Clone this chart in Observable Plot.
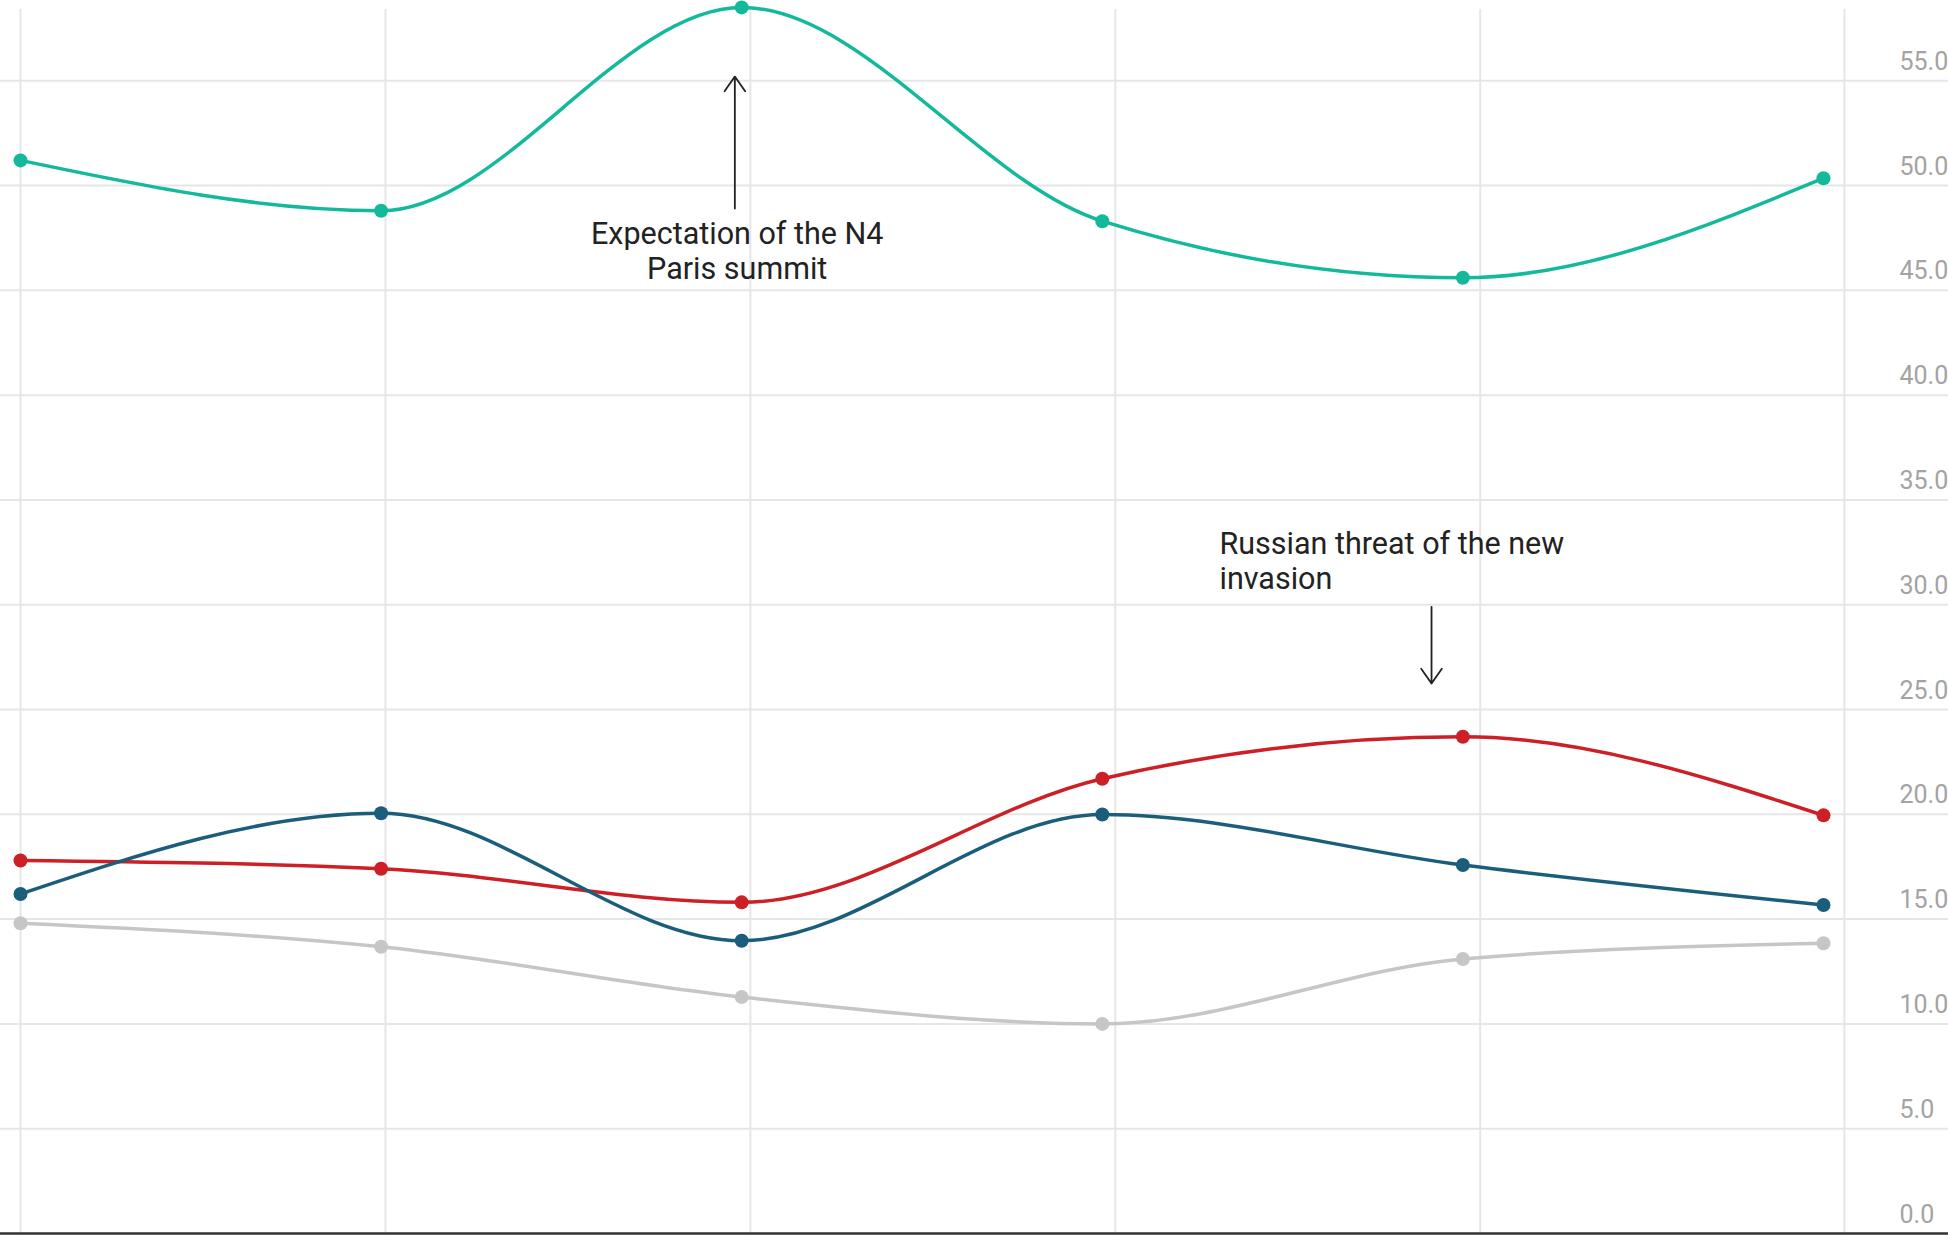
<!DOCTYPE html>
<html>
<head>
<meta charset="utf-8">
<script src="https://cdn.jsdelivr.net/npm/d3@7"></script>
<script src="https://cdn.jsdelivr.net/npm/@observablehq/plot@0.6"></script>
<style>
  html, body { margin: 0; padding: 0; background: #fff; overflow: hidden; }
  svg { display: block; }
</style>
</head>
<body>
<div id="chart"></div>
<script>
// ---- data ----
const periods = [0, 1, 2, 3, 4, 5];
const seriesNames = ["Series D", "Series C", "Series B", "Series A"];
const seriesDValues = [14.8, 13.68, 11.28, 10.0, 13.1, 13.85];
const seriesCValues = [17.8, 17.4, 15.8, 21.7, 23.7, 19.95];
const seriesBValues = [16.2, 20.05, 13.97, 19.99, 17.58, 15.67];
const seriesAValues = [51.2, 48.8, 58.5, 48.3, 45.6, 50.35];
const seriesColors = ["#c6c6c6", "#cc1f26", "#1b5e7c", "#14b99c"];
const yTicks = [0, 5, 10, 15, 20, 25, 30, 35, 40, 45, 50, 55];
const xGrid = [0, 1.012, 2.024, 3.036, 4.048, 5.058];
const noteSummit = [{x: 1.9875, y: 48.4, text: "Expectation of the N4\nParis summit"}];
const noteThreat = [{x: 3.325, y: 33.6, text: "Russian threat of the new\ninvasion"}];
const arrowUp = [{x: 1.981, y1: 48.9, y2: 55.2}];
const arrowDown = [{x: 3.913, y1: 29.9, y2: 26.24}];

const valuesBySeries = {"Series D": seriesDValues, "Series C": seriesCValues, "Series B": seriesBValues, "Series A": seriesAValues};
const rows = seriesNames.flatMap(s => periods.map((p, i) => ({series: s, period: p, value: valuesBySeries[s][i]})));

const W = 1948, H = 1237;
const mL = 20, mR = 125, mT = 9, mB = 4;

const chart = Plot.plot({
  width: W,
  height: H,
  marginLeft: mL,
  marginRight: mR,
  marginTop: mT,
  marginBottom: mB,
  style: {fontFamily: "Roboto, sans-serif", background: "#fff", overflow: "visible"},
  x: {domain: [0, 5], axis: null},
  y: {domain: [0, 58.4], axis: null},
  color: {domain: seriesNames, range: seriesColors},
  marks: [
    Plot.ruleY(yTicks.filter(d => d > 0), {y: d => d, stroke: "#e6e6e6", strokeWidth: 2, insetLeft: -mL, insetRight: -mR}),
    Plot.ruleX(xGrid, {x: d => d, stroke: "#e6e6e6", strokeWidth: 2}),
    Plot.ruleY([0], {y: d => d, stroke: "#333", strokeWidth: 2.5, insetLeft: -mL, insetRight: -mR}),
    Plot.axisY({anchor: "right", ticks: yTicks, tickSize: 0, tickPadding: 76, tickFormat: d => d.toFixed(1),
      fill: "#a3a3a3", fontSize: 25, dy: -19, textAnchor: "start", label: null}),
    Plot.line(rows, {x: "period", y: "value", z: "series", stroke: "series", strokeWidth: 3.5, curve: "monotone-x"}),
    Plot.dot(rows, {x: "period", y: "value", fill: "series", r: 7, stroke: null}),
    Plot.arrow(arrowUp, {x1: "x", x2: "x", y1: "y1", y2: "y2", stroke: "#222", strokeWidth: 1.8, headLength: 15, headAngle: 70, bend: 0}),
    Plot.arrow(arrowDown, {x1: "x", x2: "x", y1: "y1", y2: "y2", stroke: "#222", strokeWidth: 1.8, headLength: 15, headAngle: 70, bend: 0}),
    Plot.text(noteSummit, {x: "x", y: "y", text: "text", textAnchor: "middle", lineAnchor: "top", lineHeight: 1.15, fontSize: 30.5, fill: "#222"}),
    Plot.text(noteThreat, {x: "x", y: "y", text: "text", textAnchor: "start", lineAnchor: "top", lineHeight: 1.15, fontSize: 30.5, fill: "#222"})
  ]
});
document.getElementById("chart").appendChild(chart);
</script>
</body>
</html>
